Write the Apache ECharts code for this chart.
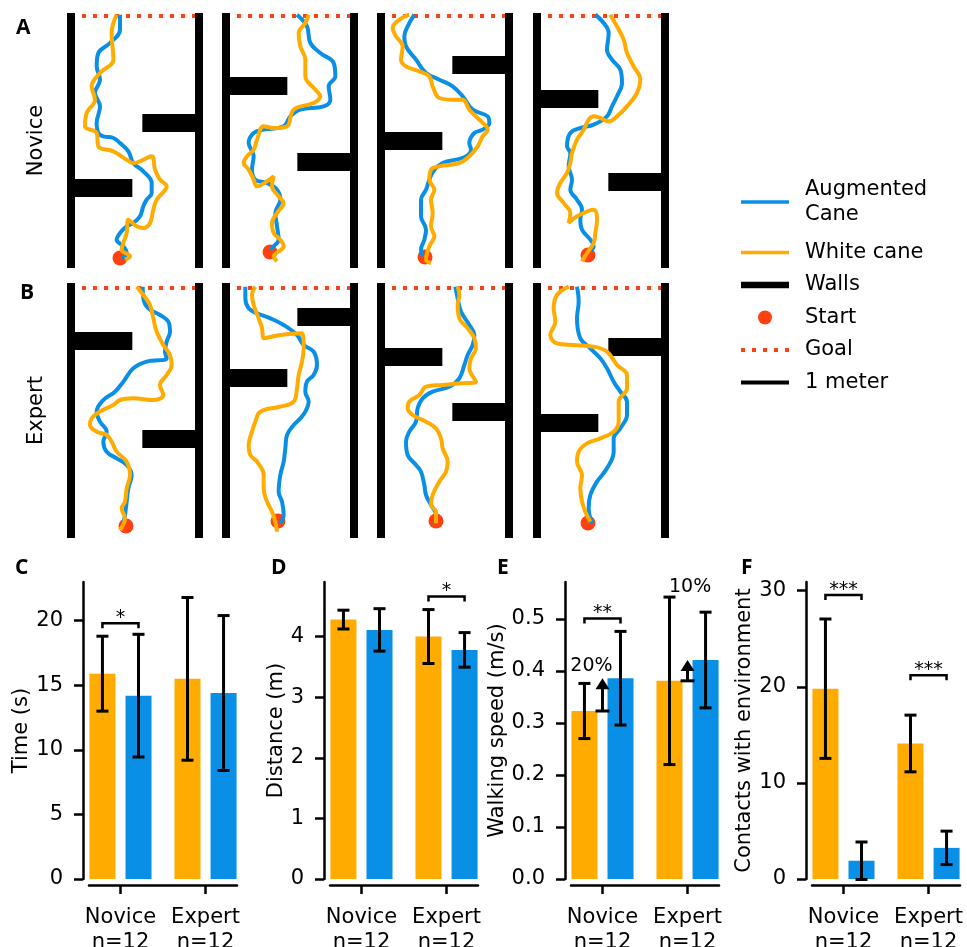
<!DOCTYPE html>
<html>
<head>
<meta charset="utf-8">
<script src="https://cdn.jsdelivr.net/npm/echarts@6/dist/echarts.min.js"></script>
<style>
html, body { margin: 0; padding: 0; background: #fff; }
#main { width: 967px; height: 947px; }
</style>
</head>
<body>
<div id="main"></div>
<script>
// maze panels: x measured from the left wall, y downward from the top of the walls
const mazeWidth = 384;
const mazeHeight = 765;

const noviceAugmented = [
  [[147,5],[147,50],[117,90],[82,120],[77,160],[87,200],[72,240],[87,280],[77,330],[82,360],[97,370],[127,375],[147,390],[172,415],[187,450],[217,475],[242,510],[242,540],[227,560],[217,580],[207,610],[187,630],[167,640],[147,660],[137,680],[157,700],[167,720],[152,735]],
  [[213,5],[243,40],[253,90],[283,120],[323,150],[328,190],[308,220],[313,260],[293,280],[223,290],[193,310],[173,340],[113,350],[83,360],[68,390],[83,430],[78,470],[88,500],[123,510],[153,530],[163,560],[148,600],[153,640],[158,680],[143,700],[133,710]],
  [[100,5],[80,40],[70,70],[75,100],[105,140],[135,180],[175,200],[215,220],[245,250],[275,290],[320,310],[325,330],[305,350],[280,360],[265,390],[270,410],[255,430],[225,440],[185,450],[160,470],[145,500],[135,530],[120,560],[120,610],[135,650],[130,680],[120,710],[125,730]],
  [[175,5],[200,30],[215,60],[210,110],[225,140],[250,170],[255,210],[240,250],[225,280],[210,310],[170,335],[130,345],[100,360],[90,400],[100,420],[95,460],[105,500],[100,530],[120,560],[135,590],[130,620],[135,650],[160,680],[170,700],[160,715]]
];
const noviceWhite = [
  [[137,5],[122,60],[127,140],[87,180],[62,220],[72,260],[47,300],[42,340],[77,360],[82,400],[127,415],[167,440],[187,450],[242,430],[252,470],[267,500],[287,520],[257,560],[247,590],[237,630],[217,645],[197,640],[172,620],[167,660],[157,690],[152,710],[177,730],[162,740]],
  [[248,5],[238,30],[218,60],[223,100],[238,140],[238,190],[268,230],[283,250],[263,270],[203,290],[183,340],[143,345],[113,340],[93,380],[83,410],[63,430],[53,450],[68,470],[83,500],[93,520],[123,505],[143,490],[138,520],[158,550],[173,570],[153,600],[138,630],[143,660],[163,680],[173,700],[143,730],[153,745]],
  [[85,5],[55,20],[35,45],[45,70],[65,100],[60,140],[75,160],[115,175],[145,190],[155,220],[175,255],[215,260],[245,260],[265,290],[295,320],[320,350],[305,370],[290,400],[265,430],[235,450],[175,460],[150,470],[145,500],[160,530],[150,560],[155,600],[150,640],[160,670],[145,700],[135,740],[150,750]],
  [[220,5],[240,40],[260,80],[270,120],[290,160],[310,200],[300,240],[270,280],[240,310],[215,325],[190,315],[170,310],[155,320],[140,350],[120,380],[105,420],[100,450],[90,480],[70,510],[60,540],[80,570],[100,600],[95,630],[120,610],[170,590],[180,620],[175,660],[170,690],[150,720],[135,745]]
];
const expertAugmented = [
  [[215,11],[217,46],[232,76],[267,96],[292,116],[297,146],[287,176],[282,206],[287,226],[227,236],[187,256],[157,296],[132,326],[97,351],[77,386],[87,416],[107,446],[97,476],[107,506],[137,526],[167,546],[182,576],[172,616],[167,656],[162,696],[157,726]],
  [[58,11],[58,46],[68,76],[93,91],[133,106],[173,126],[213,156],[233,186],[263,206],[273,246],[263,276],[243,296],[238,326],[248,356],[238,386],[223,406],[203,426],[183,456],[178,496],[173,536],[163,576],[158,626],[168,656],[173,696],[163,721]],
  [[223,11],[230,46],[240,86],[265,126],[280,156],[275,186],[260,216],[250,246],[235,286],[205,311],[155,326],[125,346],[110,376],[105,416],[85,446],[75,476],[80,516],[105,546],[120,566],[130,606],[135,636],[150,666],[165,696],[160,721]],
  [[120,11],[125,56],[120,106],[130,166],[160,196],[190,226],[210,256],[230,296],[250,326],[270,356],[270,396],[250,436],[230,466],[230,506],[210,556],[180,596],[160,636],[155,676],[165,721]]
];
const expertWhite = [
  [[197,11],[217,36],[237,66],[247,106],[257,146],[277,186],[297,216],[302,246],[287,276],[267,306],[277,336],[247,351],[187,346],[147,351],[127,366],[87,386],[62,406],[57,426],[77,446],[107,456],[122,476],[137,506],[167,536],[177,576],[167,616],[162,656],[152,676],[162,706],[147,741]],
  [[88,11],[78,36],[83,66],[98,106],[108,136],[113,166],[163,156],[228,151],[233,196],[228,236],[218,276],[213,316],[203,356],[163,371],[103,386],[88,416],[78,446],[68,486],[73,516],[93,536],[113,576],[113,616],[123,656],[138,686],[148,716],[153,746]],
  [[230,11],[235,36],[230,66],[235,106],[260,136],[280,166],[285,196],[270,226],[265,256],[285,296],[235,301],[185,306],[135,311],[115,336],[85,356],[80,376],[95,396],[135,416],[165,436],[180,466],[185,496],[200,536],[195,566],[175,596],[155,636],[150,666],[165,686],[165,721]],
  [[95,11],[60,36],[50,76],[55,116],[40,156],[60,181],[110,186],[170,191],[210,206],[240,246],[270,276],[270,316],[245,356],[245,416],[230,446],[190,466],[150,481],[125,506],[120,536],[135,576],[130,616],[135,656],[145,686],[160,716]]
];
// inner walls: [x from, x to, y]
const noviceWalls = [
  [[214,384,330],[0,184,525]],
  [[0,184,219],[214,384,447]],
  [[214,384,156],[0,184,384]],
  [[0,184,258],[214,384,507]]
];
const expertWalls = [
  [[0,184,174],[214,384,468]],
  [[214,384,102],[0,184,285]],
  [[0,184,222],[214,384,387]],
  [[214,384,192],[0,184,420]]
];
const noviceStart = [[147,735],[132,717],[132,732],[153,726]];
const expertStart = [[165,729],[156,714],[165,714],[153,720]];
const goalX = [33, 372];
const noviceGoalY = 9;
const expertGoalY = 15;

// bar panels
const groups = ['Novice', 'Expert'];
const groupN = [12, 12];

const timeWhite = [15.9, 15.5];
const timeWhiteSd = [2.9, 6.3];
const timeAug = [14.2, 14.4];
const timeAugSd = [4.75, 6.0];
const timeSig = [[0, 19.8, '*']];
const timeTicks = [0, 5, 10, 15, 20];

const distWhite = [4.28, 4.0];
const distWhiteSd = [0.155, 0.445];
const distAug = [4.11, 3.78];
const distAugSd = [0.35, 0.285];
const distSig = [[1, 4.66, '*']];
const distTicks = [0, 1, 2, 3, 4];

const speedWhite = [0.323, 0.381];
const speedWhiteSd = [0.053, 0.161];
const speedAug = [0.386, 0.421];
const speedAugSd = [0.09, 0.092];
const speedSig = [[0, 0.501, '**']];
const speedTicks = [0, 0.1, 0.2, 0.3, 0.4, 0.5];
const speedGain = ['20%', '10%'];
const speedGainAt = [[-0.13, 0.412], [1.03, 0.563]];

const contactWhite = [19.8, 14.1];
const contactWhiteSd = [7.25, 2.95];
const contactAug = [1.9, 3.24];
const contactAugSd = [1.95, 1.74];
const contactSig = [[0, 29.55, '***'], [1, 21.2, '***']];
const contactTicks = [0, 10, 20, 30];

const blue = '#0a8fe6';
const orange = '#ffab00';
const red = '#ff4010';
const font = 'DejaVu Sans';

var myChart = echarts.init(document.getElementById('main'));

const grids = [], xAxes = [], yAxes = [], series = [];

const mazeLeft = [71, 226, 381, 537];
const mazeTop = [13, 283];
const mazeRows = [
  {label: 'Novice', aug: noviceAugmented, white: noviceWhite, walls: noviceWalls, start: noviceStart, goalY: noviceGoalY},
  {label: 'Expert', aug: expertAugmented, white: expertWhite, walls: expertWalls, start: expertStart, goalY: expertGoalY}
];

mazeRows.forEach(function (row, r) {
  for (let c = 0; c < 4; c++) {
    const g = grids.length;
    grids.push({left: mazeLeft[c], top: mazeTop[r], width: 128, height: 255, outerBoundsMode: 'none'});
    xAxes.push({gridIndex: g, type: 'value', min: 0, max: mazeWidth, show: false});
    yAxes.push({
      gridIndex: g, type: 'value', min: 0, max: mazeHeight, inverse: true, show: c === 0,
      axisLine: {show: false}, axisTick: {show: false}, axisLabel: {show: false}, splitLine: {show: false},
      name: c === 0 ? row.label : '', nameLocation: 'middle', nameRotate: 90, nameGap: 24,
      nameTextStyle: {fontSize: 21, color: '#000', fontFamily: font}
    });
    const wallData = [
      {coords: [[0, 0], [0, mazeHeight]]},
      {coords: [[mazeWidth, 0], [mazeWidth, mazeHeight]]}
    ];
    row.walls[c].forEach(function (w) {
      wallData.push({coords: [[w[0], w[2]], [w[1], w[2]]], lineStyle: {width: 18}});
    });
    series.push({
      type: 'lines', name: 'Walls', coordinateSystem: 'cartesian2d', xAxisIndex: g, yAxisIndex: g,
      silent: true, lineStyle: {color: '#000', width: 8, opacity: 1, curveness: 0}, data: wallData, z: 1
    });
    series.push({
      type: 'line', name: 'Goal', xAxisIndex: g, yAxisIndex: g, symbol: 'none', silent: true,
      data: [[goalX[0], row.goalY], [goalX[1], row.goalY]],
      lineStyle: {color: red, width: 4, type: [4, 7], cap: 'butt'}, z: 1
    });
    series.push({
      type: 'scatter', name: 'Start', xAxisIndex: g, yAxisIndex: g, symbolSize: 15, silent: true,
      data: [row.start[c]], itemStyle: {color: red, opacity: 1}, z: 2
    });
    series.push({
      type: 'line', name: 'Augmented\nCane', xAxisIndex: g, yAxisIndex: g, symbol: 'none', smooth: 0.4,
      data: row.aug[c], lineStyle: {color: blue, width: 4}, itemStyle: {color: blue}, silent: true, z: 3
    });
    series.push({
      type: 'line', name: 'White cane', xAxisIndex: g, yAxisIndex: g, symbol: 'none', smooth: 0.4,
      data: row.white[c], lineStyle: {color: orange, width: 4}, itemStyle: {color: orange}, silent: true, z: 4
    });
  }
});
series.push({type: 'line', name: '1 meter', xAxisIndex: 0, yAxisIndex: 0, data: [], lineStyle: {color: '#000'}});

// bar panels
const barHalf = 0.153;
const barOffset = 0.212;
const barPanels = [
  {name: 'Time (s)', white: timeWhite, whiteSd: timeWhiteSd, aug: timeAug, augSd: timeAugSd, sig: timeSig, ticks: timeTicks, max: 23, gap: 50, digits: 0},
  {name: 'Distance (m)', white: distWhite, whiteSd: distWhiteSd, aug: distAug, augSd: distAugSd, sig: distSig, ticks: distTicks, max: 4.9, gap: 36, digits: 0},
  {name: 'Walking speed (m/s)', white: speedWhite, whiteSd: speedWhiteSd, aug: speedAug, augSd: speedAugSd, sig: speedSig, ticks: speedTicks, max: 0.571, gap: 57, digits: 1},
  {name: 'Contacts with environment', white: contactWhite, whiteSd: contactWhiteSd, aug: contactAug, augSd: contactAugSd, sig: contactSig, ticks: contactTicks, max: 30.9, gap: 50, digits: 0}
];
const barLeft = [89, 330, 571, 812];

function barRender(offset, color) {
  return function (params, api) {
    const x = api.value(0) + offset;
    const a = api.coord([x - barHalf, 0]);
    const b = api.coord([x + barHalf, api.value(1)]);
    return {type: 'rect', shape: {x: a[0], y: b[1], width: b[0] - a[0], height: a[1] - b[1]}, style: {fill: color}};
  };
}

function errRender(offset) {
  return function (params, api) {
    const x = api.value(0) + offset;
    const m = api.value(1), s = api.value(2);
    const top = api.coord([x, m + s]);
    const bot = api.coord([x, m - s]);
    const st = {stroke: '#000', lineWidth: 3};
    return {type: 'group', children: [
      {type: 'line', shape: {x1: top[0], y1: top[1], x2: bot[0], y2: bot[1]}, style: st},
      {type: 'line', shape: {x1: top[0] - 6, y1: top[1], x2: top[0] + 6, y2: top[1]}, style: st},
      {type: 'line', shape: {x1: bot[0] - 6, y1: bot[1], x2: bot[0] + 6, y2: bot[1]}, style: st}
    ]};
  };
}

function sigRender(sig) {
  return function (params, api) {
    const g = api.value(0), y = api.value(1);
    const p1 = api.coord([g - barOffset, y]);
    const p2 = api.coord([g + barOffset, y]);
    return {type: 'group', children: [
      {type: 'polyline', shape: {points: [[p1[0], p1[1] + 5], p1, p2, [p2[0], p2[1] + 5]]}, style: {stroke: '#000', lineWidth: 2.5, fill: null}},
      {type: 'text', x: (p1[0] + p2[0]) / 2, y: p1[1] - 5,
        style: {text: sig[params.dataIndex][2], fill: '#000', fontSize: 19, fontFamily: font, align: 'center', verticalAlign: 'middle'}}
    ]};
  };
}

function arrowRender(params, api) {
  const g = api.value(0);
  const base = api.coord([g, api.value(1)]);
  const tip = api.coord([g, api.value(2)]);
  const st = {stroke: '#000', lineWidth: 3};
  return {type: 'group', children: [
    {type: 'line', shape: {x1: base[0] - 7, y1: base[1], x2: base[0] + 7, y2: base[1]}, style: st},
    {type: 'line', shape: {x1: base[0], y1: base[1], x2: tip[0], y2: tip[1] + 10}, style: st},
    {type: 'polygon', shape: {points: [[tip[0], tip[1]], [tip[0] - 7, tip[1] + 11], [tip[0] + 7, tip[1] + 11]]}, style: {fill: '#000'}}
  ]};
}

barPanels.forEach(function (p, i) {
  const g = grids.length;
  grids.push({left: barLeft[i], top: 582, width: 148, height: 297, outerBoundsMode: 'none'});
  xAxes.push({
    gridIndex: g, type: 'value', min: -0.37, max: 1.37, offset: 6, splitLine: {show: false},
    axisLine: {show: true, onZero: false, lineStyle: {color: '#000', width: 2.5}},
    axisTick: {show: true, customValues: [0, 1], length: 9, lineStyle: {color: '#000', width: 2.5}},
    axisLabel: {
      customValues: [0, 1], margin: 20, fontSize: 21, lineHeight: 25, color: '#000', fontFamily: font,
      formatter: function (v) { const k = Math.round(v); return groups[k] + '\nn=' + groupN[k]; }
    }
  });
  yAxes.push({
    gridIndex: g, type: 'value', min: 0, max: p.max, offset: 6, splitLine: {show: false},
    axisLine: {show: true, onZero: false, lineStyle: {color: '#000', width: 2.5}},
    axisTick: {show: true, customValues: p.ticks, length: 9, lineStyle: {color: '#000', width: 2.5}},
    axisLabel: {
      customValues: p.ticks, margin: 20, fontSize: 21, color: '#000', fontFamily: font,
      formatter: function (v) { return v.toFixed(p.digits); }
    },
    name: p.name, nameLocation: 'middle', nameGap: p.gap, nameRotate: 90,
    nameTextStyle: {fontSize: 21, color: '#000', fontFamily: font}
  });
  const whiteData = p.white.map(function (v, k) { return [k, v, p.whiteSd[k]]; });
  const augData = p.aug.map(function (v, k) { return [k, v, p.augSd[k]]; });
  series.push({type: 'custom', name: 'white bars', xAxisIndex: g, yAxisIndex: g, data: whiteData, encode: {x: 0, y: 1}, renderItem: barRender(-barOffset, orange), silent: true, z: 2});
  series.push({type: 'custom', name: 'aug bars', xAxisIndex: g, yAxisIndex: g, data: augData, encode: {x: 0, y: 1}, renderItem: barRender(barOffset, blue), silent: true, z: 2});
  series.push({type: 'custom', name: 'white sd', xAxisIndex: g, yAxisIndex: g, data: whiteData, encode: {x: 0, y: 1}, renderItem: errRender(-barOffset), silent: true, z: 3});
  series.push({type: 'custom', name: 'aug sd', xAxisIndex: g, yAxisIndex: g, data: augData, encode: {x: 0, y: 1}, renderItem: errRender(barOffset), silent: true, z: 3});
  series.push({type: 'custom', name: 'significance', xAxisIndex: g, yAxisIndex: g, data: p.sig.map(function (s) { return [s[0], s[1]]; }), encode: {x: 0, y: 1}, renderItem: sigRender(p.sig), silent: true, z: 4});
  if (p.name === 'Walking speed (m/s)') {
    series.push({type: 'custom', name: 'gain', xAxisIndex: g, yAxisIndex: g, data: speedWhite.map(function (v, k) { return [k, v, speedAug[k]]; }), encode: {x: 0, y: 1}, renderItem: arrowRender, silent: true, z: 4});
    series.push({
      type: 'custom', name: 'gain text', xAxisIndex: g, yAxisIndex: g, data: speedGainAt, encode: {x: 0, y: 1}, silent: true, z: 4,
      renderItem: function (params, api) {
        const pt = api.coord([api.value(0), api.value(1)]);
        return {type: 'text', x: pt[0], y: pt[1] + 1, style: {text: speedGain[params.dataIndex], fill: '#000', fontSize: 19, fontFamily: font, align: 'center', verticalAlign: 'middle'}};
      }
    });
  }
});

const panelLetters = [['A', 16, 18], ['B', 20, 283], ['C', 15, 558], ['D', 271, 558], ['E', 497, 558], ['F', 741, 558]];

const legendText = {fontSize: 21, lineHeight: 25, color: '#000', fontFamily: font, padding: [0, 0, 0, 11]};

var option = {
  animation: false,
  textStyle: {fontFamily: font},
  title: panelLetters.map(function (t) {
    return {text: t[0], left: t[1], top: t[2], padding: 0, textStyle: {fontSize: 21, fontWeight: 'bold', fontFamily: 'Open Sans', color: '#000'}};
  }),
  legend: [
    {
      orient: 'vertical', left: 741, top: 177, itemWidth: 48, itemHeight: 14, selectedMode: false, padding: 0,
      textStyle: legendText,
      data: [{name: 'Augmented\nCane', icon: 'path://M0,0h48v3.5h-48z', itemStyle: {color: blue, borderWidth: 0}}]
    },
    {
      orient: 'vertical', left: 741, top: 240, itemWidth: 48, itemHeight: 14, itemGap: 7.5, selectedMode: false, padding: 0,
      textStyle: legendText,
      data: [
        {name: 'White cane', icon: 'path://M0,0h48v3.5h-48z', itemStyle: {color: orange, borderWidth: 0}},
        {name: 'Walls', icon: 'path://M0,0h52v7h-52z', itemStyle: {color: '#000', borderWidth: 0}},
        {name: 'Start', icon: 'circle', itemStyle: {color: red, borderWidth: 0}},
        {name: 'Goal', icon: 'path://M0,0h4v4h-4zM11,0h4v4h-4zM22,0h4v4h-4zM33,0h4v4h-4zM44,0h4v4h-4z', itemStyle: {color: red, borderWidth: 0}},
        {name: '1 meter', icon: 'path://M0,0h48v4h-48z', itemStyle: {color: '#000', borderWidth: 0}}
      ]
    }
  ],
  grid: grids,
  xAxis: xAxes,
  yAxis: yAxes,
  series: series
};

myChart.setOption(option);
</script>
</body>
</html>
